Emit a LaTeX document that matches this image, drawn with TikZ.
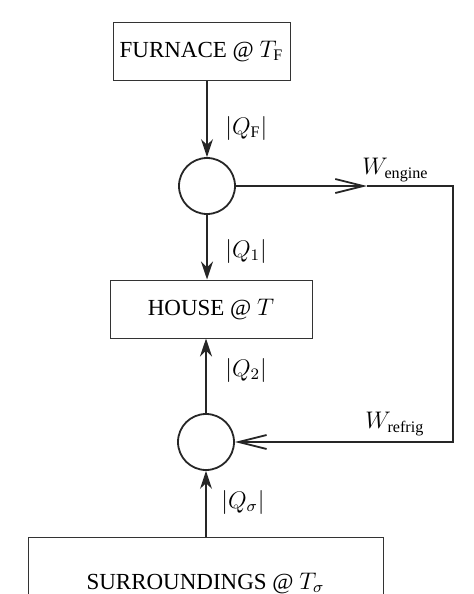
\documentclass[tikz,border=0pt]{standalone}
\usepackage{amsmath}
\usepackage{fontspec}
\setmainfont{Liberation Serif}
\usetikzlibrary{arrows.meta, positioning}

\begin{document}
\begin{tikzpicture}[x=0.5pt, y=-0.5pt, >={Stealth[]},
  box/.style={draw=black!80, line width=0.5pt, inner sep=0pt, font=\fontsize{11.5}{14}\selectfont},
  eng/.style={draw=black!85, circle, minimum size=28pt, inner sep=0pt, line width=0.9pt},
  heat/.style={-{Stealth[length=9pt, width=6pt]}, draw=black!85, line width=0.9pt},
  work/.style={-{Straight Barb[length=14pt, width=7pt]}, draw=black!85, line width=0.9pt},
  lbl/.style={anchor=west, inner sep=0pt, font=\fontsize{11.5}{14}\selectfont}]
  \useasboundingbox (0,0) rectangle (473,594);
  \clip (0,0) rectangle (473,594);
  % reservoirs and the two machines
  \node[box, minimum width=88.5pt, minimum height=29pt] (furnace) at (201.5,51) {FURNACE @ $T_{\mathrm{F}}$};
  \node[eng] (engine) at (207,186) {};
  \node[box, minimum width=101pt, minimum height=29pt] (house) at (211,309) {HOUSE @ $T$};
  \node[eng] (refrig) at (206,442) {};
  \node[box, minimum width=177.5pt, minimum height=46pt] (surr) at (205.5,583) {SURROUNDINGS @ $T_\sigma$};
  % heat flows
  \draw[heat] (furnace.south -| engine) -- (engine);
  \draw[heat] (engine) -- (house.north -| engine);
  \draw[heat] (refrig) -- (house.south -| refrig);
  \draw[heat] (surr.north -| refrig) -- (refrig);
  \node[lbl] (qf) at (225,128) {$|Q_{\mathrm{F}}|$};
  \node[lbl] (q1) at (225,251) {$|Q_1|$};
  \node[lbl] (q2) at (225,370) {$|Q_2|$};
  \node[lbl] (qs) at (221,502) {$|Q_\sigma|$};
  % work loop
  \coordinate (tip) at (367,186);
  \coordinate (corner) at (453,186);
  \draw[work] (engine) -- (tip);
  \draw[work] (tip) -- (corner) |- (refrig);
  \node[lbl] (we) at (362,170) {$W_{\text{engine}}$};
  \node[lbl] (wr) at (365,424) {$W_{\text{refrig}}$};
\end{tikzpicture}
\end{document}
